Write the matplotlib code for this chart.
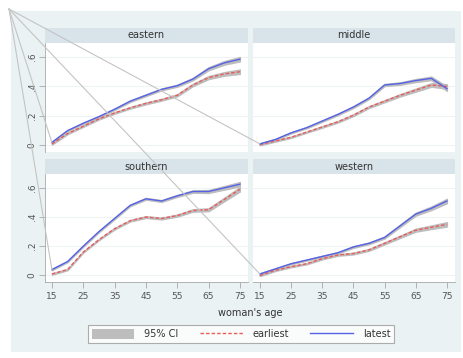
import matplotlib
matplotlib.use("Agg")
from matplotlib import pyplot as plt
from matplotlib.patches import Rectangle, Patch
from matplotlib.lines import Line2D

ages = [15, 20, 25, 30, 35, 40, 45, 50, 55, 60, 65, 70, 75]
regions = ["eastern", "middle", "southern", "western"]

# share at each age
latest = {
    "eastern": [0.02, 0.10, 0.15, 0.195, 0.245, 0.30, 0.34, 0.38, 0.405, 0.45, 0.52, 0.56, 0.585],
    "middle": [0.01, 0.04, 0.085, 0.12, 0.165, 0.21, 0.26, 0.32, 0.41, 0.42, 0.44, 0.455, 0.385],
    "southern": [0.04, 0.095, 0.20, 0.30, 0.39, 0.48, 0.525, 0.51, 0.545, 0.575, 0.575, 0.60, 0.625],
    "western": [0.01, 0.045, 0.08, 0.105, 0.13, 0.155, 0.195, 0.22, 0.26, 0.34, 0.42, 0.46, 0.51],
}
earliest = {
    "eastern": [0.01, 0.08, 0.13, 0.18, 0.22, 0.255, 0.285, 0.31, 0.34, 0.41, 0.46, 0.485, 0.50],
    "middle": [0.005, 0.03, 0.055, 0.09, 0.125, 0.16, 0.205, 0.26, 0.30, 0.34, 0.375, 0.41, 0.40],
    "southern": [0.01, 0.04, 0.16, 0.245, 0.32, 0.375, 0.40, 0.39, 0.41, 0.445, 0.45, 0.52, 0.59],
    "western": [0.0, 0.035, 0.06, 0.08, 0.115, 0.14, 0.15, 0.175, 0.22, 0.265, 0.31, 0.33, 0.35],
}
ci_half = [0.005, 0.004, 0.004, 0.004, 0.005, 0.005, 0.006, 0.006, 0.007, 0.008, 0.01, 0.012, 0.015]

xticks = [15, 25, 35, 45, 55, 65, 75]
yticks = [0, 0.2, 0.4, 0.6]
yticklabels = ["0", ".2", ".4", ".6"]

W, H = 464, 358
BG = "#EAF2F3"
STRIP = "#D9E4EA"
TXT = "#555555"
BLUE = "#5562E6"
RED = "#EA5A58"
CI = "#BDBDBD"

fig = plt.figure(figsize=(W / 100, H / 100), dpi=100)
fig.patch.set_facecolor("white")

# graph region background
fig.patches.append(Rectangle((11 / W, 1 - 352 / H), 450 / W, 341 / H,
                             transform=fig.transFigure, facecolor=BG, edgecolor="none", zorder=-5))

# pixel boxes: left, right, top, bottom of plot area
boxes = {
    "eastern": (45, 248, 43, 152),
    "middle": (253, 455, 43, 152),
    "southern": (45, 248, 174, 282),
    "western": (253, 455, 174, 282),
}

axes = {}
for i, name in enumerate(regions):
    l, r, t, b = boxes[name]
    ax = fig.add_axes([l / W, 1 - b / H, (r - l) / W, (b - t) / H])
    axes[name] = ax
    ax.set_facecolor("white")
    ax.set_xlim(12.8, 77.6)
    ax.set_ylim(-0.045, 0.695)
    for y in yticks:
        ax.axhline(y, color="#EEF3F4", lw=0.8, zorder=0)

    lo_e = [v - c for v, c in zip(earliest[name], ci_half)]
    hi_e = [v + c for v, c in zip(earliest[name], ci_half)]
    lo_l = [v - c for v, c in zip(latest[name], ci_half)]
    hi_l = [v + c for v, c in zip(latest[name], ci_half)]
    ax.fill_between(ages, lo_e, hi_e, color=CI, lw=1.0, edgecolor=CI, zorder=1)
    ax.fill_between(ages, lo_l, hi_l, color=CI, lw=1.0, edgecolor=CI, zorder=1)
    ax.plot(ages, earliest[name], color=RED, lw=1.0, ls=(0, (2.5, 1.5)), zorder=3)
    ax.plot(ages, latest[name], color=BLUE, lw=1.0, zorder=3)

    for s in ["top", "right"]:
        ax.spines[s].set_visible(False)
    ax.spines["left"].set_color("#A8A8A8")
    ax.spines["left"].set_linewidth(0.6)
    if i % 2 == 0:
        ax.set_yticks(yticks)
        ax.set_yticklabels(yticklabels, rotation=90, va="center")
        ax.tick_params(axis="y", length=4, width=0.6, color="#A8A8A8", labelsize=6.5,
                       labelcolor=TXT, pad=2)
    else:
        ax.set_yticks([])
        ax.spines["left"].set_visible(False)
    if i >= 2:
        ax.set_xticks(xticks)
        ax.tick_params(axis="x", length=4, width=0.6, color="#A8A8A8", labelsize=6.5,
                       labelcolor=TXT, pad=3)
        ax.spines["bottom"].set_color("#A8A8A8")
        ax.spines["bottom"].set_linewidth(0.6)
    else:
        ax.set_xticks([])
        ax.spines["bottom"].set_visible(False)

    # strip title
    fig.patches.append(Rectangle((l / W, 1 - t / H), (r - l) / W, 15 / H,
                                 transform=fig.transFigure, facecolor=STRIP,
                                 edgecolor="none", zorder=1))
    fig.text((l + r) / 2 / W, 1 - (t - 7.5) / H, name, ha="center", va="center",
             fontsize=7, color="#333333")

fig.text(250 / W, 1 - 313 / H, "woman's age", ha="center", va="center", fontsize=7, color="#333333")

# stray lines from the top-left corner to each curve start
fig.canvas.draw()
apex = (9 / W, 1 - 9 / H)
inv = fig.transFigure.inverted()
for name in regions:
    ax = axes[name]
    p = inv.transform(ax.transData.transform((ages[0], latest[name][0])))
    fig.lines.append(Line2D([apex[0], p[0]], [apex[1], p[1]], transform=fig.transFigure,
                            color="#C4C4C4", lw=0.8, zorder=5))

handles = [
    Patch(facecolor=CI, edgecolor="none"),
    Line2D([], [], color=RED, lw=1.0, ls=(0, (2.5, 1.5))),
    Line2D([], [], color=BLUE, lw=1.0),
]
leg = fig.legend(handles, ["95% CI", "earliest", "latest"], loc="center",
                 bbox_to_anchor=(241 / W, 1 - 334 / H), ncol=3, fontsize=7,
                 frameon=True, fancybox=False, edgecolor="#9A9A9A", handlelength=4.4,
                 handleheight=1.3, columnspacing=2.2, handletextpad=1.0,
                 borderpad=0.4, labelcolor="#333333")
leg.get_frame().set_linewidth(0.8)

fig.savefig("out.png", dpi=100, facecolor=fig.get_facecolor())
